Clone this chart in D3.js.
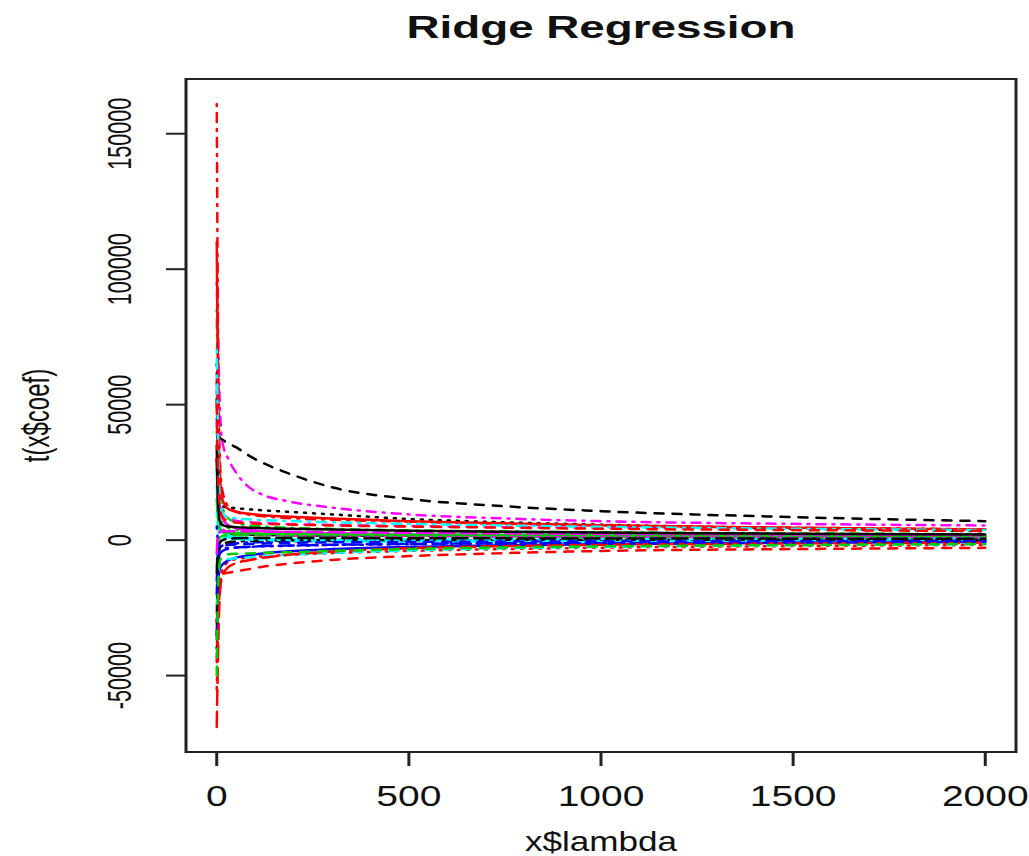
<!DOCTYPE html>
<html>
<head>
<meta charset="utf-8">
<script src="https://cdn.jsdelivr.net/npm/d3@7"></script>
<style>
body { margin: 0; background: #fff; }
text { font-family: "Liberation Sans", Arial, sans-serif; fill: #111; }
</style>
</head>
<body>
<div id="container"></div>
<script>
// lambda grid
lambdas = [0, 3, 8, 15, 30, 50, 80, 120, 180, 300, 500, 750, 1000, 1500, 2000];

// one array per coefficient path
coef01 = [30000, 14000, 5000, 3000, 2500, 2200, 2000, 1900, 1800, 1700, 1600, 1500, 1400, 1300, 1200];
coef02 = [-45000, -25000, -14000, -12500, -12000, -11500, -10800, -9800, -8800, -7300, -5900, -4800, -4000, -3300, -2850];
coef03 = [40000, 20000, 9000, 6000, 4500, 3800, 3200, 2800, 2500, 2100, 1700, 1400, 1200, 900, 700];
coef04 = [-30000, -10000, -3000, -2000, -1500, -1200, -900, -700, -500, -300, -200, -100, 0, 50, 100];
coef05 = [25000, 12000, 4000, 2000, 1000, 500, 200, 0, -200, -400, -500, -500, -450, -400, -350];
coef06 = [60000, 30000, 12000, 8000, 5500, 4500, 3800, 3300, 2900, 2500, 2100, 1800, 1600, 1300, 1100];
coef07 = [52000, 42000, 37800, 37000, 35800, 34300, 31500, 28500, 25000, 19500, 15200, 12500, 10700, 8500, 7000];
coef08 = [-55000, -35000, -18000, -11000, -8000, -7000, -6500, -6000, -5500, -4800, -4000, -3300, -2800, -2200, -1800];
coef09 = [85000, 45000, 20000, 12000, 8000, 6500, 5500, 5000, 4600, 4100, 3600, 3200, 2900, 2500, 2200];
coef10 = [-15000, -8000, -5000, -4000, -3200, -2800, -2500, -2200, -2000, -1700, -1400, -1100, -900, -700, -500];
coef11 = [20000, 10000, 5000, 3000, 1800, 1200, 800, 500, 300, 100, -100, -200, -250, -250, -250];
coef12 = [45000, 28000, 15000, 10000, 8000, 7200, 6700, 6300, 6000, 5600, 5200, 4800, 4500, 4100, 3800];
coef13 = [65000, 35000, 14000, 12500, 12000, 11800, 11400, 11000, 10500, 9500, 7800, 6600, 5700, 4300, 3300];
coef14 = [161000, 84000, 30000, 18000, 12500, 10500, 9500, 8800, 8200, 7500, 6800, 6000, 5400, 4600, 4000];
coef15 = [-10000, -2000, 1000, 1500, 1800, 1900, 1900, 1900, 1850, 1800, 1700, 1600, 1500, 1400, 1300];
coef16 = [-35000, -18000, -10500, -9000, -7500, -6500, -5700, -4900, -4200, -3300, -2500, -1900, -1500, -1000, -700];
coef17 = [-25000, -14000, -8500, -7500, -7000, -6700, -6400, -6000, -5500, -4700, -3800, -3000, -2500, -1900, -1500];
coef18 = [30000, 15000, 6000, 4000, 3000, 2600, 2300, 2100, 1900, 1700, 1500, 1300, 1200, 1000, 900];
coef19 = [-40000, -15000, -3000, -1500, -800, -500, -300, -200, -100, 0, 50, 100, 100, 100, 100];
coef20 = [-69000, -45000, -20000, -13000, -10000, -8500, -7500, -6500, -5500, -4200, -3000, -2200, -1700, -1200, -900];
coef21 = [15000, 8000, 4000, 3000, 2700, 2600, 2500, 2400, 2300, 2200, 2100, 2000, 1900, 1800, 1700];
coef22 = [-20000, -8000, -3000, -2000, -1800, -1600, -1400, -1200, -1000, -800, -600, -450, -350, -250, -200];
coef23 = [10000, 5000, 2000, 1000, 500, 300, 200, 150, 100, 100, 200, 300, 400, 500, 600];
coef24 = [95000, 78000, 50000, 36000, 30000, 25000, 20000, 16700, 14500, 12000, 9500, 8000, 7000, 6000, 5400];
coef25 = [-12000, -5000, -1000, 0, 500, 700, 800, 800, 800, 750, 700, 650, 600, 550, 500];
coef26 = [110000, 60000, 25000, 15000, 11500, 10500, 9800, 9200, 8700, 8000, 7000, 6200, 5500, 4600, 3950];
coef27 = [-50000, -20000, -8000, -6000, -5200, -5000, -4900, -4700, -4500, -4000, -3300, -2700, -2300, -1800, -1400];
coef28 = [5000, 0, -2500, -3000, -2900, -2700, -2500, -2300, -2100, -1800, -1500, -1200, -1000, -800, -600];
coef29 = [70000, 40000, 15000, 10000, 8500, 8000, 7700, 7400, 7100, 6600, 6000, 5400, 4900, 4200, 3700];
coef30 = [-5000, 2000, 3000, 3200, 3300, 3300, 3300, 3200, 3100, 2900, 2700, 2500, 2300, 2100, 1900];
coef31 = [35000, 15000, 7000, 5500, 5000, 4800, 4600, 4400, 4200, 3900, 3500, 3100, 2800, 2400, 2100];
coef32 = [50000, 25000, 12000, 8500, 7000, 6500, 6200, 6000, 5800, 5400, 5000, 4600, 4200, 3700, 3400];

coefs = [coef01, coef02, coef03, coef04, coef05, coef06, coef07, coef08,
         coef09, coef10, coef11, coef12, coef13, coef14, coef15, coef16,
         coef17, coef18, coef19, coef20, coef21, coef22, coef23, coef24,
         coef25, coef26, coef27, coef28, coef29, coef30, coef31, coef32];

xTicks = [0, 500, 1000, 1500, 2000];
yTicks = [-50000, 0, 50000, 100000, 150000];

// matplot defaults: col = 1:6, lty = 1:5
palette = ["#000000", "#FF0000", "#00CD00", "#0000FF", "#00FFFF", "#FF00FF"];
dashes = [null, "9,9", "2,7", "2,7,9,7", "15,7"];

width = 1029;
height = 856;
box = {left: 186, right: 1016, top: 79, bottom: 752};

// R pads the data range by 4% on each side
function padded(ext) {
    const p = (ext[1] - ext[0]) * 0.04;
    return [ext[0] - p, ext[1] + p];
}

x = d3.scaleLinear()
    .domain(padded(d3.extent(lambdas)))
    .range([box.left, box.right]);
y = d3.scaleLinear()
    .domain(padded([d3.min(coefs, c => d3.min(c)), d3.max(coefs, c => d3.max(c))]))
    .range([box.bottom, box.top]);

const svg = d3.select("div#container")
    .append("svg")
    .attr("width", width)
    .attr("height", height);

line = d3.line()
    .x((d, i) => x(lambdas[i]))
    .y(d => y(d))
    .curve(d3.curveMonotoneX);

svg.append("clipPath").attr("id", "clip")
    .append("rect")
    .attr("x", box.left).attr("y", box.top)
    .attr("width", box.right - box.left).attr("height", box.bottom - box.top);

svg.append("g")
    .attr("clip-path", "url(#clip)")
    .selectAll("path")
    .data(coefs)
    .join("path")
    .attr("fill", "none")
    .attr("stroke", (d, i) => palette[i % 6])
    .attr("stroke-width", 2.5)
    .attr("stroke-linecap", "round")
    .attr("stroke-dasharray", (d, i) => dashes[i % 5])
    .attr("d", line);

// plot frame
const frame = svg.append("g").attr("stroke", "#222");
frame.append("line").attr("x1", box.left).attr("x2", box.right).attr("y1", box.top).attr("y2", box.top).attr("stroke-width", 2);
frame.append("line").attr("x1", box.left).attr("x2", box.right).attr("y1", box.bottom).attr("y2", box.bottom).attr("stroke-width", 2);
frame.append("line").attr("x1", box.left).attr("x2", box.left).attr("y1", box.top - 1).attr("y2", box.bottom + 1).attr("stroke-width", 3);
frame.append("line").attr("x1", box.right).attr("x2", box.right).attr("y1", box.top - 1).attr("y2", box.bottom + 1).attr("stroke-width", 3);

// x axis
const xa = svg.append("g");
xa.selectAll("line")
    .data(xTicks)
    .join("line")
    .attr("x1", d => x(d)).attr("x2", d => x(d))
    .attr("y1", box.bottom).attr("y2", box.bottom + 14)
    .attr("stroke", "#222").attr("stroke-width", 3);
xa.selectAll("text")
    .data(xTicks)
    .join("text")
    .attr("text-anchor", "middle")
    .attr("font-size", 30)
    .attr("transform", d => `translate(${x(d)},806) scale(1.3,1)`)
    .text(d => d);

// y axis
const ya = svg.append("g");
ya.selectAll("line")
    .data(yTicks)
    .join("line")
    .attr("x1", box.left - 20).attr("x2", box.left)
    .attr("y1", d => y(d)).attr("y2", d => y(d))
    .attr("stroke", "#222").attr("stroke-width", 2);
ya.selectAll("text")
    .data(yTicks)
    .join("text")
    .attr("text-anchor", "middle")
    .attr("font-size", 21.6)
    .attr("transform", d => `translate(${131},${y(d)}) rotate(-90) scale(1,1.55)`)
    .text(d => d);

// titles
svg.append("text")
    .attr("text-anchor", "middle")
    .attr("font-size", 32)
    .attr("font-weight", "bold")
    .attr("transform", `translate(${(box.left + box.right) / 2},38) scale(1.43,1)`)
    .text("Ridge Regression");

svg.append("text")
    .attr("text-anchor", "middle")
    .attr("font-size", 27)
    .attr("transform", `translate(${(box.left + box.right) / 2},851) scale(1.3,1)`)
    .text("x$lambda");

svg.append("text")
    .attr("text-anchor", "middle")
    .attr("font-size", 24)
    .attr("transform", `translate(${49},${(box.top + box.bottom) / 2}) rotate(-90) scale(1,1.55)`)
    .text("t(x$coef)");
</script>
</body>
</html>
